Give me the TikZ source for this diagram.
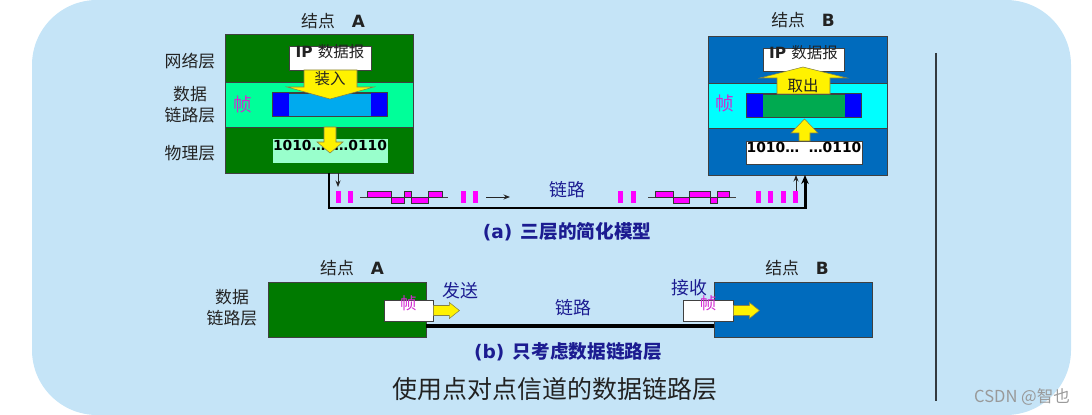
\documentclass[tikz,border=0pt]{standalone}
\usepackage{fontspec}
\setmainfont{Noto Sans CJK SC}
\newfontfamily\lat{DejaVu Sans}
\usetikzlibrary{fit,arrows.meta}

\definecolor{bgblue}{RGB}{197,228,247}
\definecolor{dkgreen}{RGB}{0,122,0}
\definecolor{mint}{RGB}{0,255,153}
\definecolor{palemint}{RGB}{153,255,204}
\definecolor{skyblue}{RGB}{0,170,238}
\definecolor{nodeblue}{RGB}{0,107,189}
\definecolor{lightcyan}{RGB}{0,255,255}
\definecolor{framegreen}{RGB}{0,170,80}
\definecolor{navy}{RGB}{28,28,145}
\definecolor{txt}{RGB}{34,34,34}
\definecolor{sepline}{RGB}{51,58,64}
\definecolor{pink}{RGB}{255,0,255}
\definecolor{framepink}{RGB}{210,40,210}

\tikzset{
  box/.style={inner sep=0pt, draw=black!75, line width=0.5pt},
  lbl/.style={font=\fontsize{9.6}{11.9}\selectfont, text=txt, align=center},
  small/.style={font=\fontsize{8.8}{10}\selectfont, text=txt},
  bits/.style={font=\lat\bfseries\fontsize{7.9}{9}\selectfont, text=black},
  blue lbl/.style={font=\fontsize{10.2}{12}\selectfont, text=navy},
  caption/.style={font=\bfseries\fontsize{10.6}{12}\selectfont, text=navy},
  frame lbl/.style={font=\fontsize{10.6}{12}\selectfont, text=framepink},
  yarrow/.style={fill=yellow, draw=black!55!yellow, line width=0.3pt},
  pulse/.style={fill=pink, draw=black!80, line width=0.4pt},
  link/.style={line width=1.7pt, draw=black},
  thin link/.style={line width=0.5pt, draw=black!85, -{Stealth[length=1.3mm,width=1mm]}}
}

\begin{document}
\begin{tikzpicture}[x=0.02cm,y=-0.02cm]
\useasboundingbox (0,0) rectangle (1092,415);
\fill[bgblue, rounded corners=1.3cm] (32,0) rectangle (1071,415);

% (a) node A
\node[box, fill=dkgreen, fit={(225,34) (413,173)}] (A) {};
\node[box, fill=mint, fit={(225,82) (413,127)}] (Adl) {};
\node[box, fill=white, fit={(289,46) (371,70)}, small] (Aip) {{\lat\bfseries IP}\,\,数据报};
\node[box, fill=skyblue, fit={(273,93) (387,116)}] (Afr) {};
\fill[blue] (Afr.north west) rectangle ++(16,23);
\fill[blue] (Afr.north east) rectangle ++(-16,23);
\draw[black!75] (Afr.north west) rectangle (Afr.south east);
\node[box, fill=palemint, draw=palemint, fit={(273,139) (387,162)}, bits] (Abits) {1010…\ \ …0110};
\filldraw[yarrow] (304,70) -- (357,70) -- (357,87) -- (374,87) -- (330,99) -- (287,87) -- (304,87) -- cycle;
\node[small] at (330,79) {装入};
\filldraw[yarrow] (324,127) -- (336,127) -- (336,142) -- (343,142) -- (330,153) -- (317,142) -- (324,142) -- cycle;
\node[frame lbl] at (243,104) {帧};
\node[lbl] at (333,21) {结点\quad{\lat\bfseries A}};
\node[lbl] at (190,61) {网络层};
\node[lbl] at (190,104.5) {数据\\链路层};
\node[lbl] at (190,153) {物理层};

% (a) node B
\node[box, fill=nodeblue, fit={(708,36) (887,175)}] (B) {};
\node[box, fill=lightcyan, fit={(708,83) (887,128)}] (Bdl) {};
\node[box, fill=white, fit={(763,48) (844,71)}, small] (Bip) {{\lat\bfseries IP}\,\,数据报};
\node[box, fill=framegreen, fit={(747,94) (861,117)}] (Bfr) {};
\fill[blue] (Bfr.north west) rectangle ++(16,23);
\fill[blue] (Bfr.north east) rectangle ++(-16,23);
\draw[black!75] (Bfr.north west) rectangle (Bfr.south east);
\node[box, fill=white, fit={(746,141) (862,164)}, bits] (Bbits) {1010…\ \ …0110};
\filldraw[yarrow] (777,94) -- (830,94) -- (830,78) -- (847,78) -- (803,67) -- (760,78) -- (777,78) -- cycle;
\node[small] at (803,86) {取出};
\filldraw[yarrow] (799,141) -- (810,141) -- (810,133) -- (818,133) -- (804.5,119) -- (791,133) -- (799,133) -- cycle;
\node[frame lbl] at (725,103) {帧};
\node[lbl] at (803,20) {结点\quad{\lat\bfseries B}};

% (a) link
\coordinate (Aout) at (329,173);
\coordinate (turn) at (805,208);
\coordinate (Bin) at (805,175);
\draw[link, -{Stealth[length=1.8mm,width=1.5mm]}] (Aout) |- (turn) -- (Bin);
\draw[thin link] (338,173) -- (338,187);
\draw[thin link] (796,197) -- (796,175);
\draw[thin link] (486,197) -- (510,197);
\foreach \x in {336,348,461,473,618,631,756,768,781,793}
  \fill[pink] (\x,191) rectangle ++(5,12);
\draw[black!75, line width=0.4pt] (360,197) -- (448,197);
\draw[black!75, line width=0.4pt] (648,197) -- (736,197);
\foreach \a/\b/\s in {367/391/-1,391/404/1,404/411/-1,411/428/1,428/442/-1,
                      655/673/-1,673/689/1,689/710/-1,710/717/1,717/729/-1}
  \filldraw[pulse] (\a,197) rectangle (\b,{197+6*\s});
\node[blue lbl] at (567,190) {链路};
\node[caption] at (567,232) {{\lat (a)}\ \ 三层的简化模型};

% (b)
\node[box, fill=dkgreen, fit={(268,282) (426,337)}] (A2) {};
\node[box, fill=nodeblue, fit={(714,282) (872,337)}] (B2) {};
\node[box, fill=white, fit={(384,300) (433,321)}, frame lbl, font=\fontsize{9.4}{10}\selectfont] (Af2) {帧};
\node[box, fill=white, fit={(683,300) (733,321)}, frame lbl, font=\fontsize{9.4}{10}\selectfont] (Bf2) {帧};
\foreach \f in {Af2,Bf2}
  \filldraw[yarrow] (\f.east) ++(0,-5) -- ++(16,0) -- ++(0,-3) -- ++(10,8) -- ++(-10,8) -- ++(0,-3) -- ++(-16,0) -- cycle;
\coordinate (l2) at (0,326);
\draw[link, line width=2pt] (A2.east |- l2) -- (B2.west |- l2);
\node[lbl] at (352,268) {结点\quad{\lat\bfseries A}};
\node[lbl] at (797,268) {结点\quad{\lat\bfseries B}};
\node[lbl] at (232,308) {数据\\链路层};
\node[blue lbl] at (460,291) {发送};
\node[blue lbl] at (689,288) {接收};
\node[blue lbl] at (573,308) {链路};
\node[caption] at (568,352) {{\lat (b)}\ \ 只考虑数据链路层};
\node[font=\fontsize{14.2}{16}\selectfont, text=txt] at (555,389) {使用点对点信道的数据链路层};

\draw[sepline, line width=1.1pt] (936,53) -- (936,401);
\node[anchor=west, font=\fontsize{9.4}{11}\selectfont, text=black!40] at (968,397) {CSDN @智也};
\end{tikzpicture}
\end{document}
